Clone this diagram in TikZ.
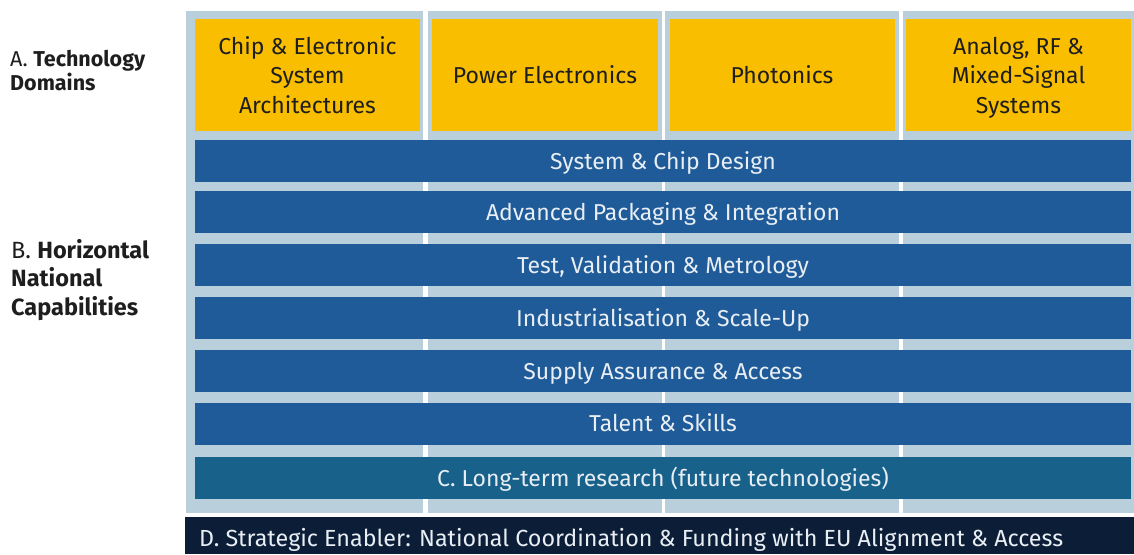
\documentclass[tikz,border=0pt]{standalone}
\usepackage{fontspec}
\setmainfont{Fira Sans}
\definecolor{framegray}{HTML}{B9CFDB}
\definecolor{domainyellow}{HTML}{FABE00}
\definecolor{capblue}{HTML}{1E5B98}
\definecolor{researchteal}{HTML}{17618A}
\definecolor{enablernavy}{HTML}{0C1E37}
\definecolor{bandtext}{HTML}{E8EEF4}
\definecolor{labeltext}{HTML}{1E1E1E}
\begin{document}
\begin{tikzpicture}[x=1pt,y=-1pt,
  domainbox/.style={fill=domainyellow,inner sep=0pt,minimum width=225pt,minimum height=112pt,
    align=center,text=labeltext,font=\fontsize{23}{29.5}\selectfont},
  capband/.style={fill=capblue,inner sep=0pt,minimum width=936pt,minimum height=42pt,
    text height=17pt,text depth=1pt,text=bandtext,font=\fontsize{23}{26}\selectfont},
  sidelabel/.style={anchor=west,align=left,text=labeltext,inner sep=0pt}]
  \useasboundingbox (0,0) rectangle (1134,554);
  % light frame columns
  \fill[framegray] (186,11) rectangle (423,513);
  \fill[framegray] (428,11) rectangle (662,513);
  \fill[framegray] (665,11) rectangle (899,513);
  \fill[framegray] (903,11) rectangle (1134,513);
  % A. technology domains
  \node[domainbox] (chip) at (307.5,75) {Chip \& Electronic\\System\\Architectures};
  \node[domainbox,minimum width=226pt] (power) at (545,75) {Power Electronics};
  \node[domainbox,minimum width=225pt] (photonics) at (782,75) {Photonics};
  \node[domainbox] (analog) at (1018.5,75) {Analog, RF \&\\Mixed-Signal\\\raisebox{0pt}[\height][0pt]{Systems}};
  % B. horizontal capabilities
  \node[capband] (design) at (663,161) {System \& Chip Design};
  \node[capband] (packaging) at (663,212) {Advanced Packaging \& Integration};
  \node[capband] (test) at (663,265) {Test, Validation \& Metrology};
  \node[capband] (industry) at (663,318) {Industrialisation \& Scale-Up};
  \node[capband] (supply) at (663,371) {Supply Assurance \& Access};
  \node[capband] (talent) at (663,423.5) {Talent \& Skills};
  % C. research
  \node[capband,fill=researchteal] (research) at (663,478) {C. Long-term research (future technologies)};
  % D. enabler
  \fill[enablernavy] (185,517) rectangle (1134,554);
  \node[anchor=west,text=bandtext,inner sep=0pt,text height=17pt,text depth=1pt,
    font=\fontsize{23.3}{26}\selectfont] (enabler) at (199,538)
    {D. Strategic Enabler: National Coordination \& Funding with EU Alignment \& Access};
  % side labels
  \node[sidelabel,font=\fontsize{21.5}{24}\selectfont] (labelA) at (10,70.5) {A. \textbf{Technology}\\\textbf{Domains}};
  \node[sidelabel,font=\fontsize{23.5}{28.5}\selectfont] (labelB) at (11,280) {B. \textbf{Horizontal}\\\textbf{National}\\\textbf{Capabilities}};
\end{tikzpicture}
\end{document}
